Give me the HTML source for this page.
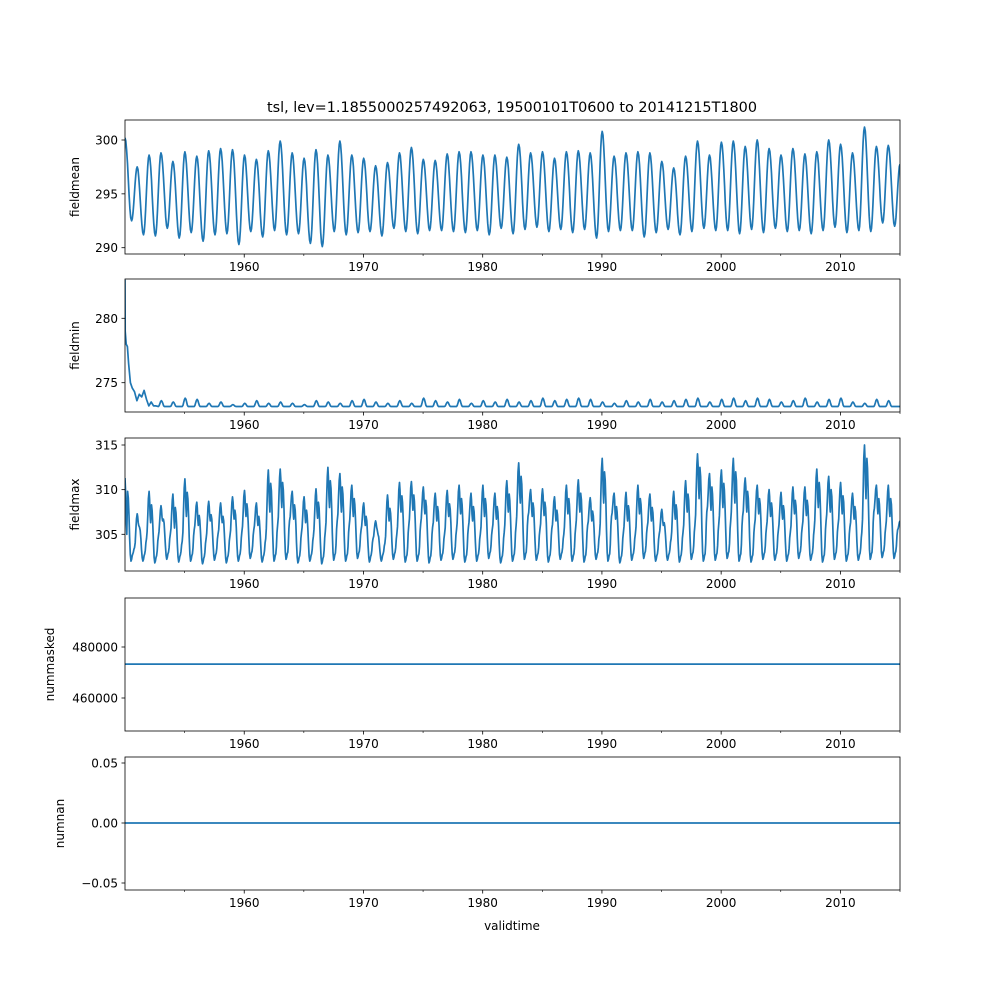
<!DOCTYPE html>
<html><head><meta charset="utf-8"><style>
body{margin:0;background:#fff;font-family:"Liberation Sans","DejaVu Sans",sans-serif;}
svg text{font-family:"DejaVu Sans","Liberation Sans",sans-serif;font-size:12px;fill:#000}
</style></head><body>
<svg id="chart" width="1000" height="1000" xmlns="http://www.w3.org/2000/svg">
<rect width="1000" height="1000" fill="#fff"/>
<text x="512" y="112" text-anchor="middle" style="font-size:14.4px">tsl, lev=1.1855000257492063, 19500101T0600 to 20141215T1800</text>
<text x="512" y="930" text-anchor="middle">validtime</text>
</svg>
<script>
const years=[];for(let y=1950;y<=2014;y++)years.push(y);
const xTicks=[1960,1970,1980,1990,2000,2010];
const meanPeaks=[300.2,297.5,298.6,298.8,298.0,298.9,298.5,299.0,299.2,299.1,298.6,298.2,299.0,299.9,298.8,298.3,299.1,298.6,299.9,298.6,298.3,297.6,297.9,298.8,299.3,298.2,298.1,298.7,298.9,298.9,298.6,298.6,298.4,299.6,298.8,298.9,298.3,298.9,299.0,298.8,300.8,298.5,298.8,298.9,298.8,298.0,297.4,298.5,299.9,298.6,299.8,299.9,299.4,300.0,299.2,298.6,299.2,298.7,298.9,300.0,299.6,298.8,301.2,299.4,299.5];
const meanTroughs=[292.5,291.2,291.1,291.8,290.9,291.4,290.6,291.2,291.3,290.3,291.5,291.0,291.6,291.2,291.3,290.4,290.1,291.5,291.2,291.4,291.5,291.1,291.8,291.5,291.3,291.6,291.6,291.5,291.4,291.6,291.2,291.8,291.3,291.7,291.9,291.5,291.7,291.4,291.7,290.9,291.5,291.6,291.6,291.0,291.4,291.7,291.2,291.5,291.8,291.6,291.6,291.3,291.7,291.4,291.8,291.5,291.6,291.3,291.6,291.9,291.4,291.6,291.5,292.3,292.0];
const maxPeaks=[311.3,307.3,309.8,308.2,309.5,311.2,308.6,308.7,308.5,309.2,309.9,308.5,312.2,312.3,309.8,309.2,310.1,312.5,311.8,310.5,308.5,306.5,309.4,310.8,310.9,310.3,309.6,309.9,310.5,309.6,310.5,309.6,311.0,313.0,310.0,310.1,309.2,310.5,311.1,309.1,313.5,309.6,309.7,310.5,309.5,307.8,309.8,311.0,314.0,311.8,312.2,313.5,311.3,310.5,310.0,309.7,310.3,310.3,312.3,311.5,310.8,309.6,315.0,310.5,310.5];
const maxMids=[304.5,305.5,305.8,306.0,305.2,306.5,305.5,306.0,305.8,306.2,306.5,305.5,307.0,307.5,306.2,305.8,306.3,307.5,307.0,306.5,305.5,305.0,306.0,307.0,307.2,306.8,306.0,306.5,306.8,306.0,306.5,306.2,307.0,308.0,306.5,306.6,306.0,306.8,307.0,306.0,308.0,306.2,306.0,306.8,306.0,305.5,306.2,307.0,308.5,307.2,307.5,308.0,307.0,306.8,306.5,306.2,306.8,306.6,307.5,307.0,306.8,306.2,308.5,306.8,306.5];
const maxTroughs=[302.0,302.0,301.8,302.2,301.9,302.0,301.7,302.1,301.8,302.0,302.3,301.9,302.0,302.2,301.8,302.0,301.7,302.1,302.0,302.3,301.9,302.0,302.2,301.9,302.0,301.8,302.1,302.2,301.9,302.0,302.3,301.8,302.0,302.2,302.1,301.9,302.2,302.0,301.9,302.2,302.0,301.8,302.1,302.3,302.0,302.1,301.9,302.2,302.0,302.1,302.3,302.0,301.9,302.2,302.1,302.0,302.3,302.1,301.9,302.2,302.0,302.1,302.2,302.4,302.3];
const minEarlyT=[1950.0,1950.02,1950.1,1950.2,1950.3,1950.45,1950.6,1950.8,1951.0,1951.2,1951.4,1951.6,1951.8,1952.0,1952.2,1952.4,1952.6];
const minEarlyV=[283,279,278.0,277.8,276.5,275.0,274.6,274.3,273.6,274.1,273.9,274.4,273.7,273.2,273.5,273.2,273.2];
const minBumps=[0,0,0,273.6,273.5,273.8,273.7,273.4,273.5,273.3,273.4,273.6,273.4,273.5,273.4,273.3,273.6,273.5,273.4,273.6,273.7,273.5,273.4,273.6,273.4,273.8,273.6,273.5,273.7,273.4,273.6,273.5,273.7,273.5,273.6,273.8,273.6,273.7,273.8,273.7,273.5,273.4,273.6,273.5,273.7,273.5,273.6,273.7,273.8,273.5,273.7,273.8,273.6,273.8,273.7,273.5,273.6,273.8,273.5,273.7,273.8,273.5,273.4,273.7,273.6];
const minBase=273.15;
const numMasked=473300;
const numNan=0;

const svg=document.getElementById('chart');
const NS='http://www.w3.org/2000/svg';
const X0=125,X1=900;
const xs=t=>X0+(t-1950)*(X1-X0)/65;
function el(tag,attrs,parent){const e=document.createElementNS(NS,tag);for(const k in attrs)e.setAttribute(k,attrs[k]);(parent||svg).appendChild(e);return e;}
const panels=[
 {name:'fieldmean',top:120,bot:254,v0:290,p0:247.7,v1:300,p1:140,ticks:[290,295,300],lab:'fieldmean'},
 {name:'fieldmin',top:279,bot:412,v0:275,p0:382.7,v1:280,p1:318.3,ticks:[275,280],lab:'fieldmin'},
 {name:'fieldmax',top:438,bot:571,v0:305,p0:534.3,v1:315,p1:445,ticks:[305,310,315],lab:'fieldmax'},
 {name:'nummasked',top:598,bot:731,v0:460000,p0:698,v1:480000,p1:647,ticks:[460000,480000],lab:'nummasked'},
 {name:'numnan',top:757,bot:890,v0:-0.05,p0:883,v1:0.05,p1:763,ticks:[-0.05,0,0.05],lab:'numnan',fmt:v=>v<0?'\u22120.05':v.toFixed(2)}
];
panels.forEach((p,i)=>{
 const ys=v=>p.p0+(v-p.v0)*(p.p1-p.p0)/(p.v1-p.v0);
 p.ys=ys;
 const g=el('g',{});
 
 
 p.g=g;
 xTicks.forEach(t=>{const x=xs(t);el('line',{x1:x,x2:x,y1:p.bot,y2:p.bot+3.5,stroke:'#000','stroke-width':0.8},g);
  const tx=el('text',{x:x,y:p.bot+17,'text-anchor':'middle'},g);tx.textContent=t;
  
  });
 for(let t=1955;t<=2015;t+=10){const x=xs(t);el('line',{x1:x,x2:x,y1:p.bot,y2:p.bot+2,stroke:'#000','stroke-width':0.6},g);}
 p.ticks.forEach(v=>{const y=ys(v);el('line',{x1:X0-3.5,x2:X0,y1:y,y2:y,stroke:'#000','stroke-width':0.8},g);
  const tx=el('text',{x:X0-7,y:y+4.5,'text-anchor':'end'},g);tx.textContent=p.fmt?p.fmt(v):v;
  
  });
 const cy=(p.top+p.bot)/2;
 const yl=el('text',{x:0,y:0,'text-anchor':'middle',transform:`translate(${i===3?54:(i===4?64:79)},${cy}) rotate(-90)`},g);yl.textContent=p.lab;
 
 
 const cp=el('clipPath',{id:'c'+i},g);el('rect',{x:X0,y:p.top,width:X1-X0,height:p.bot-p.top},cp);
});
function line(p,pts,name){
 const d=pts.map((q,j)=>(j?'L':'M')+xs(q[0]).toFixed(1)+','+p.ys(q[1]).toFixed(1)).join('');
 const path=el('path',{d:d,fill:'none',stroke:'#1f77b4','stroke-width':1.7,'stroke-linejoin':'round','clip-path':'url(#c'+panels.indexOf(p)+')'},p.g);
 
 
}
// smooth cosine segments between extremes
function seg(pts,t0,v0,t1,v1,n){for(let k=1;k<=n;k++){const f=k/n;const w=(1-Math.cos(Math.PI*f))/2;pts.push([t0+(t1-t0)*f,v0+(v1-v0)*w]);}}
// fieldmean: peak ~Jan, trough ~Jul
let pts=[[1950,meanPeaks[0]]];
years.forEach((y,i)=>{
 const pk=meanPeaks[i],tr=meanTroughs[i];
 const tp=i===0?1950:y+0.02;
 seg(pts,tp,pk,y+0.55,tr,8);
 const next=i+1<meanPeaks.length?meanPeaks[i+1]:(pk+tr)/2+2;
 const tn=i+1<meanPeaks.length?y+1.02:2015;
 seg(pts,y+0.55,tr,tn,next,8);
});
line(panels[0],pts,'fieldmean-line');
// fieldmin
pts=minEarlyT.map((t,i)=>[t,minEarlyV[i]]);
years.forEach((y,i)=>{if(minBumps[i]>0){pts.push([y-0.2,minBase]);seg(pts,y-0.2,minBase,y+0.05,minBumps[i],4);seg(pts,y+0.05,minBumps[i],y+0.3,minBase,4);pts.push([y+0.8,minBase]);}});
pts.push([2015,minBase]);line(panels[1],pts,'fieldmin-line');
// fieldmax
pts=[[1950,maxPeaks[0]]];
years.forEach((y,i)=>{
 const tp=i===0?1950:y+0.02;
 seg(pts,tp,maxPeaks[i],y+0.15,maxMids[i]+0.5,3);
 seg(pts,y+0.15,maxMids[i]+0.5,y+0.22,maxPeaks[i]-1.5,2);
 seg(pts,y+0.22,maxPeaks[i]-1.5,y+0.5,maxTroughs[i],5);
 seg(pts,y+0.5,maxTroughs[i],y+0.65,maxTroughs[i]+0.8,3);
 seg(pts,y+0.65,maxTroughs[i]+0.8,y+0.8,maxMids[i]-1,3);
 const next=i+1<maxPeaks.length?maxPeaks[i+1]:maxMids[i];
 seg(pts,y+0.8,maxMids[i]-1,i+1<maxPeaks.length?y+1.02:2015,next,4);
});
line(panels[2],pts,'fieldmax-line');
line(panels[3],[[1950,numMasked],[2015,numMasked]],'nummasked-line');
line(panels[4],[[1950,numNan],[2015,numNan]],'numnan-line');
panels.forEach(p=>{el('rect',{x:X0,y:p.top,width:X1-X0,height:p.bot-p.top,fill:'none',stroke:'#000','stroke-width':0.8},p.g);});
</script>
</body></html>
